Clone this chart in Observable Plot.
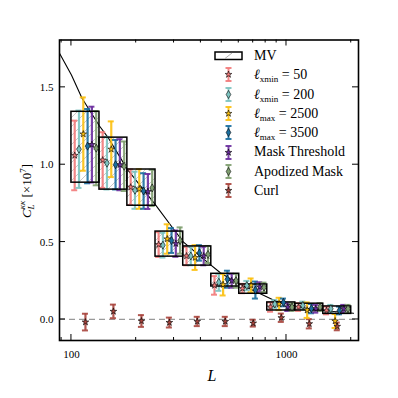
<!DOCTYPE html>
<html><head><meta charset="utf-8">
<script src="https://cdn.jsdelivr.net/npm/d3@7"></script>
<script src="https://cdn.jsdelivr.net/npm/@observablehq/plot@0.6"></script>
<style>
body{margin:0;background:#fff;}
#wrap{position:relative;width:398px;height:398px;font-family:"Liberation Serif","DejaVu Serif",serif;}
#legend{position:absolute;left:212px;top:46px;font-family:"Liberation Serif","DejaVu Serif",serif;font-size:14px;line-height:19.3px;color:#000;}
#legend .row{display:flex;align-items:center;height:19.3px;}
#legend span{font-family:"Liberation Serif","DejaVu Serif",serif;}
#legend svg{width:34px;height:19px;margin-right:8px;flex:none;}
#legend sub{font-size:9px;font-style:normal;vertical-align:-3px;line-height:0;}
</style></head><body><div id="wrap"></div>
<script>
// ---- data ----
const binEdges = [100, 135, 182, 246, 331, 447, 603, 814, 1099, 1483, 2000];
const mvValue = [1.113, 1.007, 0.852, 0.487, 0.41, 0.254, 0.196, 0.084, 0.08, 0.06];
const mvErr   = [0.229, 0.168, 0.117, 0.081, 0.062, 0.041, 0.030, 0.026, 0.022, 0.024];

const theoryL = [88, 100, 112, 135, 149, 182, 246, 300, 332, 420, 494, 600, 718, 889, 1100, 1400, 1700, 2050];
const theoryC = [1.72, 1.58, 1.43, 1.25, 1.17, 0.97, 0.74, 0.58, 0.50, 0.38, 0.30, 0.23, 0.18, 0.12, 0.085, 0.06, 0.05, 0.04];

const xmin50Val  = [1.06, 1.03, 0.855, 0.484, 0.41, 0.22, 0.20, 0.08, 0.08, 0.058];
const xmin50Err  = [0.225, 0.18, 0.115, 0.08, 0.06, 0.06, 0.03, 0.03, 0.025, 0.025];
const xmin200Val = [1.10, 1.01, 0.835, 0.48, 0.41, 0.24, 0.219, 0.10, 0.09, 0.069];
const xmin200Err = [0.25, 0.17, 0.12, 0.08, 0.06, 0.055, 0.03, 0.025, 0.025, 0.025];
const lmax2500Val = [1.198, 1.10, 0.843, 0.52, 0.40, 0.225, 0.22, 0.10, 0.06, -0.01];
const lmax2500Err = [0.237, 0.18, 0.128, 0.095, 0.08, 0.07, 0.045, 0.04, 0.05, 0.045];
const lmax3500Val = [1.12, 1.0, 0.83, 0.51, 0.43, 0.26, 0.19, 0.11, 0.07, 0.058];
const lmax3500Err = [0.24, 0.16, 0.115, 0.08, 0.05, 0.055, 0.055, 0.025, 0.03, 0.025];
const maskVal = [1.13, 1.0, 0.827, 0.49, 0.41, 0.25, 0.21, 0.08, 0.069, 0.069];
const maskErr = [0.245, 0.165, 0.113, 0.085, 0.06, 0.045, 0.03, 0.025, 0.025, 0.025];
const apodVal = [1.107, 0.99, 0.85, 0.51, 0.42, 0.25, 0.208, 0.08, 0.08, 0.069];
const apodErr = [0.24, 0.16, 0.117, 0.085, 0.055, 0.045, 0.03, 0.025, 0.025, 0.025];
const curlVal = [-0.017, 0.052, -0.01, -0.02, -0.013, -0.013, -0.024, 0.011, -0.028, -0.045];
const curlErr = [0.054, 0.044, 0.038, 0.032, 0.03, 0.03, 0.022, 0.027, 0.03, 0.025];

const xTicks = [100, 1000];
const xMinorTicks = [90, 200, 300, 400, 500, 600, 700, 800, 900, 2000];
const yTicks = [0, 0.5, 1.0, 1.5];

// ---- styling ----
const series = [
  {name: "xmin50",  val: xmin50Val,  err: xmin50Err,  color: "#f27a7a", symbol: "star",    dex: -0.05},
  {name: "xmin200", val: xmin200Val, err: xmin200Err, color: "#7cc3c0", symbol: "diamond", dex: -0.03},
  {name: "lmax2500",val: lmax2500Val,err: lmax2500Err,color: "#fcc00f", symbol: "star",    dex: -0.01},
  {name: "lmax3500",val: lmax3500Val,err: lmax3500Err,color: "#1a6e9e", symbol: "diamond", dex: 0.01},
  {name: "mask",    val: maskVal,    err: maskErr,    color: "#6b2d9e", symbol: "star",    dex: 0.03},
  {name: "apod",    val: apodVal,    err: apodErr,    color: "#7f9e70", symbol: "diamond", dex: 0.05},
  {name: "curl",    val: curlVal,    err: curlErr,    color: "#a8453d", symbol: "star",    dex: 0}
];

const centers = binEdges.slice(0, -1).map((e, i) => Math.sqrt(e * binEdges[i + 1]));
const boxes = mvValue.map((v, i) => ({x1: binEdges[i], x2: binEdges[i + 1], y1: v - mvErr[i], y2: v + mvErr[i]}));
const theory = theoryL.map((L, i) => ({L, C: theoryC[i]}));
const pts = [];
for (const s of series) s.val.forEach((v, i) => pts.push({
  x: centers[i] * Math.pow(10, s.dex), v, lo: v - s.err[i], hi: v + s.err[i], color: s.color, symbol: s.symbol
}));
const capD = 0.014;
const starR = 2.1, diaR = 2.45;

const plot = Plot.plot({
  width: 398, height: 398,
  marginLeft: 59, marginRight: 40, marginTop: 39.5, marginBottom: 58,
  style: {fontFamily: "Liberation Serif, DejaVu Serif, serif", fontSize: "11px", background: "white", color: "black"},
  x: {type: "log", domain: [88, 2162]},
  y: {domain: [-0.136, 1.806]},
  marks: [
    Plot.rect(boxes, {x1: "x1", x2: "x2", y1: "y1", y2: "y2", fill: "url(#hatch)"}),
    Plot.ruleY([0], {stroke: "#999", strokeWidth: 1.3, strokeDasharray: "6,4"}),
    Plot.line(theory, {x: "L", y: "C", stroke: "black", strokeWidth: 1.1}),
    Plot.ruleX(pts, {x: "x", y1: "lo", y2: "hi", stroke: "color", strokeWidth: 2.2, strokeOpacity: 0.9}),
    Plot.ruleY(pts, {y: "hi", x1: d => d.x * Math.pow(10, -capD), x2: d => d.x * Math.pow(10, capD), stroke: "color", strokeWidth: 2, strokeOpacity: 0.9}),
    Plot.ruleY(pts, {y: "lo", x1: d => d.x * Math.pow(10, -capD), x2: d => d.x * Math.pow(10, capD), stroke: "color", strokeWidth: 2, strokeOpacity: 0.9}),
    Plot.rect(boxes, {x1: "x1", x2: "x2", y1: "y1", y2: "y2", fill: "none", stroke: "black", strokeWidth: 1.5}),
    Plot.dot(pts.filter(d => d.symbol === "star"), {x: "x", y: "v", symbol: "star", r: starR, fill: "color", stroke: "black", strokeWidth: 0.6}),
    Plot.dot(pts.filter(d => d.symbol === "diamond"), {x: "x", y: "v", symbol: "diamond", r: diaR, fill: "color", stroke: "black", strokeWidth: 0.6}),
    Plot.axisX(xTicks, {tickSize: 0, tickPadding: 10, label: null, tickFormat: d => String(d), fontSize: 11}),
    Plot.axisY(yTicks, {tickSize: 0, tickPadding: 6, label: null, tickFormat: d3.format(".1f"), fontSize: 11}),
    Plot.frame({stroke: "black", strokeWidth: 1.6})
  ]
});

// pattern + inward ticks + labels
const svg = d3.select(plot);
const defs = svg.insert("defs", ":first-child");
const pat = defs.append("pattern").attr("id", "hatch").attr("patternUnits", "userSpaceOnUse")
  .attr("width", 9).attr("height", 9);
pat.append("rect").attr("width", 9).attr("height", 9).attr("fill", "white");
pat.append("path").attr("d", "M-1,10 L10,-1").attr("stroke", "#b9b9b9").attr("stroke-width", 0.8);

const sx = plot.scale("x"), sy = plot.scale("y");
const L = 59, R = 358, T = 39.5, B = 340;
const tg = svg.append("g").attr("stroke", "black").attr("stroke-width", 1);
for (const t of xTicks) {
  const x = sx.apply(t);
  tg.append("line").attr("x1", x).attr("x2", x).attr("y1", B).attr("y2", B - 6);
  tg.append("line").attr("x1", x).attr("x2", x).attr("y1", T).attr("y2", T + 6);
}
for (const t of xMinorTicks) {
  const x = sx.apply(t);
  tg.append("line").attr("x1", x).attr("x2", x).attr("y1", B).attr("y2", B - 3);
  tg.append("line").attr("x1", x).attr("x2", x).attr("y1", T).attr("y2", T + 3);
}
for (const t of yTicks) {
  const y = sy.apply(t);
  tg.append("line").attr("x1", L).attr("x2", L + 6).attr("y1", y).attr("y2", y);
  tg.append("line").attr("x1", R).attr("x2", R - 6).attr("y1", y).attr("y2", y);
}
// x label
svg.append("text").attr("x", 212).attr("y", 381).attr("text-anchor", "middle")
  .attr("font-size", 16).attr("font-style", "italic").attr("font-family", "Liberation Serif, DejaVu Serif, serif").text("L");
// y label
const yl = svg.append("text").attr("transform", "translate(31,191) rotate(-90)").attr("text-anchor", "middle")
  .attr("font-size", 13).attr("font-family", "Liberation Serif, DejaVu Serif, serif");
yl.append("tspan").attr("font-style", "italic").text("C");
yl.append("tspan").attr("font-style", "italic").attr("font-size", 9).attr("dy", 3).text("L");
yl.append("tspan").attr("font-style", "italic").attr("font-size", 9).attr("dx", -5).attr("dy", -9).text("κκ");
yl.append("tspan").attr("dy", 6).text(" [×10");
yl.append("tspan").attr("font-size", 9).attr("dy", -5).text("7");
yl.append("tspan").attr("dy", 5).text("]");

const wrap = document.getElementById("wrap");
wrap.appendChild(plot);

// legend (HTML overlay)
const legendItems = [
  {label: "MV", type: "box"},
  {label: "<i>ℓ</i><sub>xmin</sub> = 50", s: 0},
  {label: "<i>ℓ</i><sub>xmin</sub> = 200", s: 1},
  {label: "<i>ℓ</i><sub>max</sub> = 2500", s: 2},
  {label: "<i>ℓ</i><sub>max</sub> = 3500", s: 3},
  {label: "Mask Threshold", s: 4},
  {label: "Apodized Mask", s: 5},
  {label: "Curl", s: 6}
];
const leg = document.createElement("div");
leg.id = "legend";
for (const it of legendItems) {
  const row = document.createElement("div");
  row.className = "row";
  let icon;
  if (it.type === "box") {
    icon = `<svg viewBox="0 0 34 19"><rect x="3" y="6" width="27" height="7.5" fill="white" stroke="black" stroke-width="1.5"/><path d="M13,12.5 L20,7" stroke="#999" stroke-width="0.8"/></svg>`;
  } else {
    const s = series[it.s];
    const sym = d3.symbol(s.symbol === "star" ? d3.symbolStar : d3.symbolDiamond,
      (s.symbol === "star" ? starR : diaR) ** 2 * Math.PI)();
    icon = `<svg viewBox="0 0 34 19"><g stroke="${s.color}" stroke-width="2" stroke-opacity="0.9"><line x1="16.5" x2="16.5" y1="3" y2="16"/><line x1="13.5" x2="19.5" y1="3" y2="3"/><line x1="13.5" x2="19.5" y1="16" y2="16"/></g><path transform="translate(16.5,9.5)" d="${sym}" fill="${s.color}" stroke="black" stroke-width="0.6"/></svg>`;
  }
  row.innerHTML = icon + `<span>${it.label}</span>`;
  leg.appendChild(row);
}
wrap.appendChild(leg);
</script>
</body></html>
